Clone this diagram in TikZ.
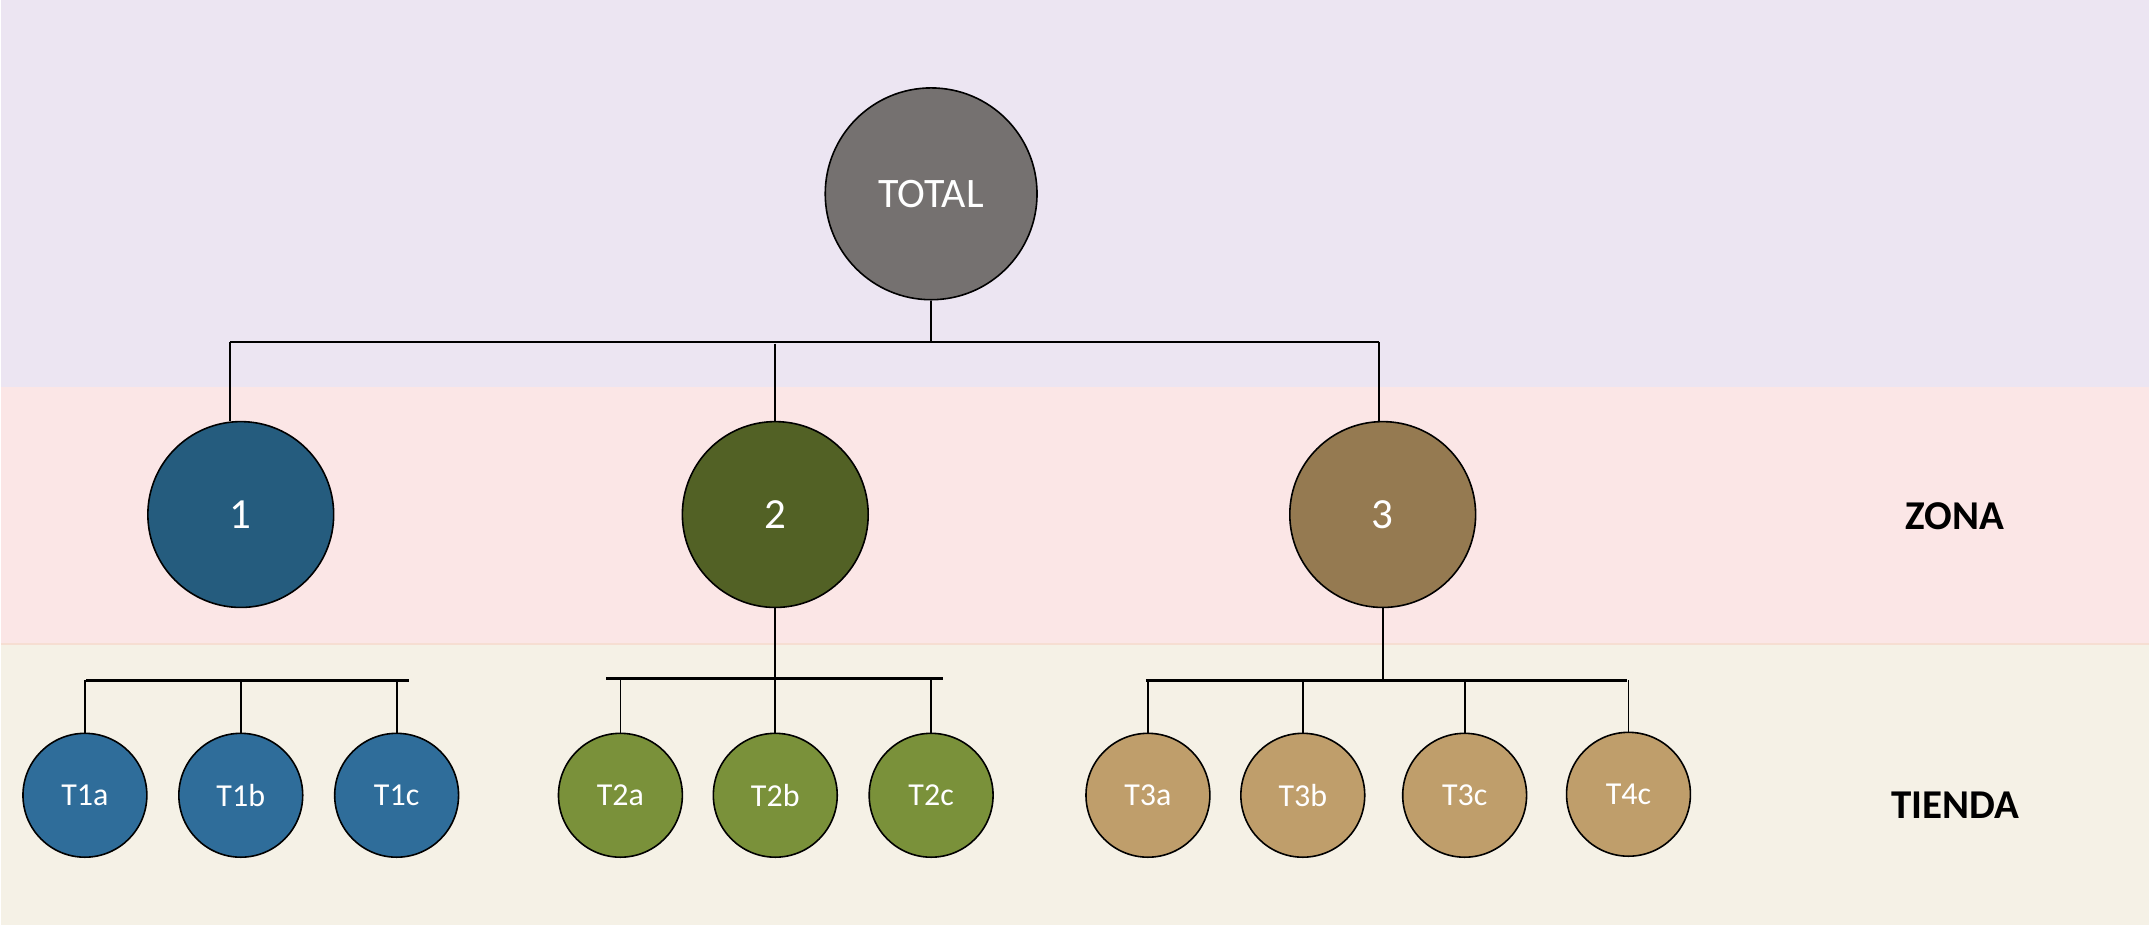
\documentclass[tikz,border=0pt]{standalone}
\usepackage{fontspec}
\setmainfont{Carlito}
\definecolor{bandTop}{RGB}{236,229,242}
\definecolor{bandMid}{RGB}{251,230,230}
\definecolor{bandLow}{RGB}{245,241,230}
\definecolor{bandEdge}{RGB}{246,222,210}
\definecolor{totalFill}{RGB}{117,113,112}
\definecolor{zoneA}{RGB}{37,92,126}
\definecolor{zoneB}{RGB}{82,97,37}
\definecolor{zoneC}{RGB}{149,122,81}
\definecolor{shopA}{RGB}{47,109,154}
\definecolor{shopB}{RGB}{122,145,58}
\definecolor{shopC}{RGB}{191,158,107}
\begin{document}
\begin{tikzpicture}[x=1pt,y=-1pt,
  ball/.style={circle, draw=black, line width=1.6pt, inner sep=0pt, text=white},
  rootball/.style={ball, minimum size=212pt, fill=totalFill, font=\fontsize{42}{50}\selectfont},
  zoneball/.style={ball, minimum size=186pt, font=\fontsize{43}{50}\selectfont},
  shopball/.style={ball, minimum size=124pt, font=\fontsize{32}{38}\selectfont},
  link/.style={draw=black, line width=1.8pt},
  shopbus/.style={draw=black, line width=2.8pt},
  levellabel/.style={font=\bfseries\fontsize{41}{48}\selectfont, text=black}]

% background bands
\fill[bandTop] (0,0) rectangle (2150,387);
\fill[bandMid] (0,387) rectangle (2150,645);
\fill[bandLow] (0,645) rectangle (2150,926);
\draw[bandEdge, line width=2pt] (0,645) -- (2150,645);
\useasboundingbox (0,0) rectangle (2150,926);

% nodes
\node[rootball] (total) at (931,194) {TOTAL};

\node[zoneball, fill=zoneA] (z1) at (240,515) {1};
\node[zoneball, fill=zoneB] (z2) at (775,515) {2};
\node[zoneball, fill=zoneC] (z3) at (1383,515) {3};

\node[shopball, fill=shopA] (t1a) at (84,796) {T1a};
\node[shopball, fill=shopA] (t1b) at (240,796) {T1b};
\node[shopball, fill=shopA] (t1c) at (396,796) {T1c};

\node[shopball, fill=shopB] (t2a) at (620,796) {T2a};
\node[shopball, fill=shopB] (t2b) at (775,796) {T2b};
\node[shopball, fill=shopB] (t2c) at (931,796) {T2c};

\node[shopball, fill=shopC] (t3a) at (1148,796) {T3a};
\node[shopball, fill=shopC] (t3b) at (1303,796) {T3b};
\node[shopball, fill=shopC] (t3c) at (1465,796) {T3c};
\node[shopball, fill=shopC] (t4c) at (1629,795) {T4c};

\node[levellabel] (zona) at (1956,517) {ZONA};
\node[levellabel] (tienda) at (1956,806) {TIENDA};

% top level bus
\coordinate (busL) at (229,342);
\coordinate (busR) at (1379,342);
\draw[link] (total.south) -- (total.south |- busL);
\draw[link] (busL) -- (busR);
\draw[link] (busL) -- (busL |- z1.north);
\draw[link] (busR) -- (busR |- z3.north);
\draw[link] ([yshift=-2pt]z2.north |- busL) -- (z2.north);

% shop buses
\coordinate (g1L) at (85,681);
\coordinate (g1R) at (408,681);
\draw[shopbus] (g1L) -- (g1R);
\foreach \s in {t1a,t1b,t1c} \draw[link] (\s.north) -- (\s.north |- g1L);

\coordinate (g2L) at (606,679);
\coordinate (g2R) at (943,679);
\draw[shopbus] (g2L) -- (g2R);
\foreach \s in {t2a,t2c} \draw[link] (\s.north) -- (\s.north |- g2L);
\draw[link] (z2.south) -- (t2b.north);

\coordinate (g3L) at (1146,681);
\coordinate (g3R) at (1627,681);
\draw[shopbus] (g3L) -- (g3R);
\foreach \s in {t3a,t3b,t3c,t4c} \draw[link] (\s.north) -- (\s.north |- g3L);
\draw[link] (z3.south) -- (z3.south |- g3L);

\end{tikzpicture}
\end{document}
